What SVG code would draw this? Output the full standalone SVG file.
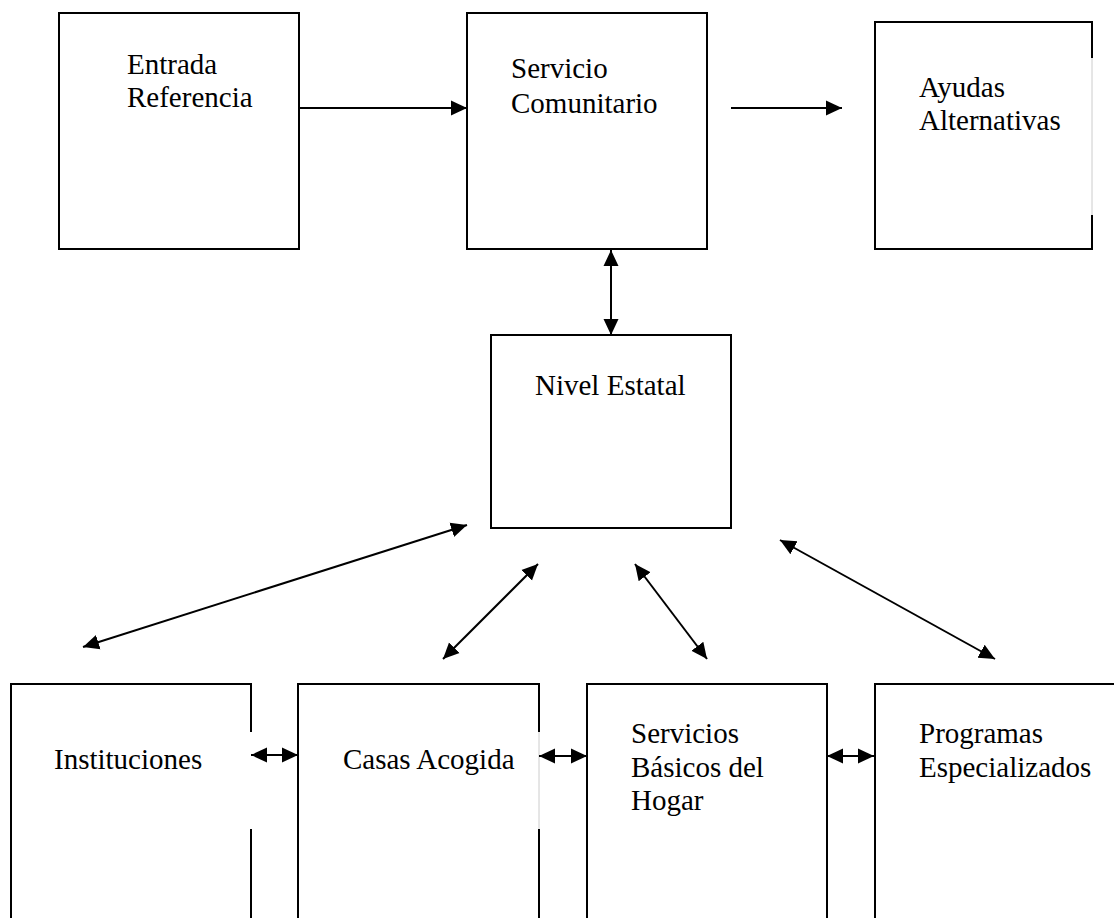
<svg xmlns="http://www.w3.org/2000/svg" width="1114" height="918" viewBox="0 0 1114 918">
<style>
.box{fill:none;stroke:#000;stroke-width:2}
.gap{fill:none;stroke:#ccc;stroke-width:1}
.lbl{font-family:"Liberation Serif","Times New Roman",serif;font-size:29px;fill:#000}
.con{stroke:#000;stroke-width:2;fill:none}
</style>
<defs>
<marker id="ah" markerUnits="userSpaceOnUse" markerWidth="18" markerHeight="18" viewBox="0 0 18 18" refX="16" refY="9" orient="auto-start-reverse">
<path d="M0,1.5 L16,9 L0,16.5 Z" fill="#000"/>
</marker>
</defs>
<rect width="1114" height="918" fill="#fff"/>
<g id="entrada">
<rect class="box" x="59" y="13" width="240" height="236"/>
<text class="lbl" x="127" y="74">Entrada</text>
<text class="lbl" x="127" y="107">Referencia</text>
</g>
<g id="servicio">
<rect class="box" x="467" y="13" width="240" height="236"/>
<text class="lbl" x="511" y="78">Servicio</text>
<text class="lbl" x="511" y="113">Comunitario</text>
</g>
<g id="ayudas">
<path class="box" d="M1092,58 V22 H875 V249 H1092 V215"/>
<path class="gap" d="M1092,58 V215"/>
<text class="lbl" x="919" y="97">Ayudas</text>
<text class="lbl" x="919" y="130">Alternativas</text>
</g>
<g id="nivel">
<rect class="box" x="491" y="335" width="240" height="193"/>
<text class="lbl" x="535" y="395">Nivel Estatal</text>
</g>
<g id="instituciones">
<path class="box" d="M251,732 V684 H11 V930 M251,829 V930"/>
<text class="lbl" x="54" y="769">Instituciones</text>
</g>
<g id="casas">
<path class="box" d="M539,732 V684 H298 V930 M539,829 V930"/>
<path class="gap" d="M539,732 V829"/>
<text class="lbl" x="343" y="769">Casas Acogida</text>
</g>
<g id="servicios-basicos">
<rect class="box" x="587" y="684" width="240" height="250"/>
<text class="lbl" x="631" y="743">Servicios</text>
<text class="lbl" x="631" y="777">Básicos del</text>
<text class="lbl" x="631" y="810">Hogar</text>
</g>
<g id="programas">
<rect class="box" x="875" y="684" width="260" height="250"/>
<text class="lbl" x="919" y="743">Programas</text>
<text class="lbl" x="919" y="777">Especializados</text>
</g>
<g id="connectors">
<line class="con" x1="299" y1="108" x2="467" y2="108" marker-end="url(#ah)"/>
<line class="con" x1="731" y1="108" x2="842" y2="108" marker-end="url(#ah)"/>
<line class="con" x1="611" y1="250" x2="611" y2="335" marker-start="url(#ah)" marker-end="url(#ah)"/>
<line class="con" x1="83" y1="647" x2="467" y2="525" marker-start="url(#ah)" marker-end="url(#ah)"/>
<line class="con" x1="443" y1="659" x2="538" y2="564" marker-start="url(#ah)" marker-end="url(#ah)"/>
<line class="con" x1="635" y1="564" x2="707" y2="659" marker-start="url(#ah)" marker-end="url(#ah)"/>
<line class="con" x1="780" y1="540" x2="995" y2="659" marker-start="url(#ah)" marker-end="url(#ah)"/>
<line class="con" x1="251" y1="755" x2="298" y2="755" marker-start="url(#ah)" marker-end="url(#ah)"/>
<line class="con" x1="539" y1="756" x2="587" y2="756" marker-start="url(#ah)" marker-end="url(#ah)"/>
<line class="con" x1="827" y1="756" x2="874" y2="756" marker-start="url(#ah)" marker-end="url(#ah)"/>
</g>
</svg>
